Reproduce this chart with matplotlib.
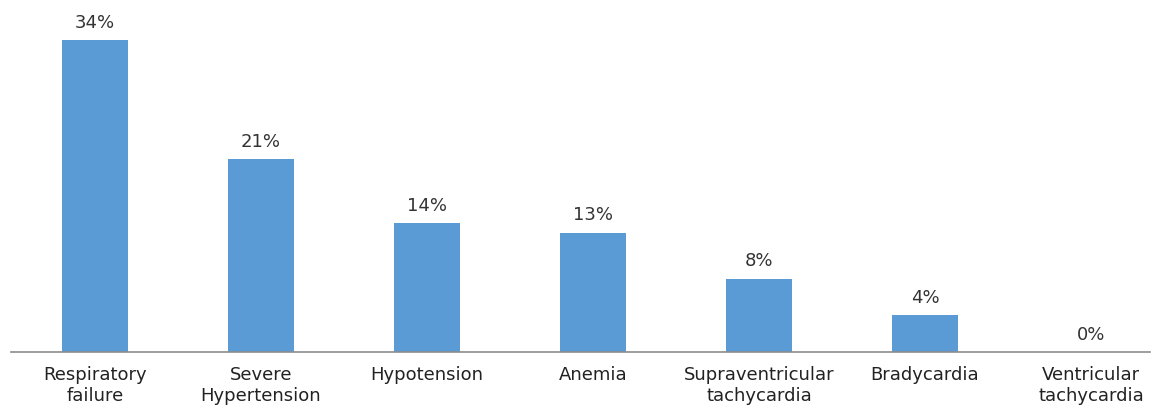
import matplotlib
matplotlib.use("Agg")
import matplotlib.pyplot as plt

plt.rcParams["font.family"] = ["DejaVu Sans"]

categories = ["Respiratory\nfailure", "Severe\nHypertension", "Hypotension", "Anemia",
              "Supraventricular\ntachycardia", "Bradycardia", "Ventricular\ntachycardia"]
percentages = [34, 21, 14, 13, 8, 4, 0]
value_labels = ["34%", "21%", "14%", "13%", "8%", "4%", "0%"]

fig = plt.figure(figsize=(11.61, 4.05), dpi=100)
ax = fig.add_axes([11 / 1161, 53 / 405, 1139 / 1161, 342 / 405])

x = list(range(len(categories)))
ax.bar(x, percentages, width=0.4, color="#5B9BD5", zorder=2)

for xi, val, lab in zip(x, percentages, value_labels):
    ax.annotate(lab, (xi, val), xytext=(0, 6), textcoords="offset points",
                ha="center", va="bottom", fontsize=13, color="#333333")

ax.set_xlim(-0.506, 6.355)
ax.set_ylim(0, 37.25)
ax.set_xticks(x)
ax.set_xticklabels(categories, fontsize=13, color="#222222", linespacing=1.22)
ax.tick_params(axis="x", length=0, pad=10)
ax.set_yticks([])
for side in ("top", "right", "left"):
    ax.spines[side].set_visible(False)
ax.spines["bottom"].set_color("#8c8c8c")
ax.spines["bottom"].set_linewidth(1.2)

fig.savefig("out.png", dpi=100)
